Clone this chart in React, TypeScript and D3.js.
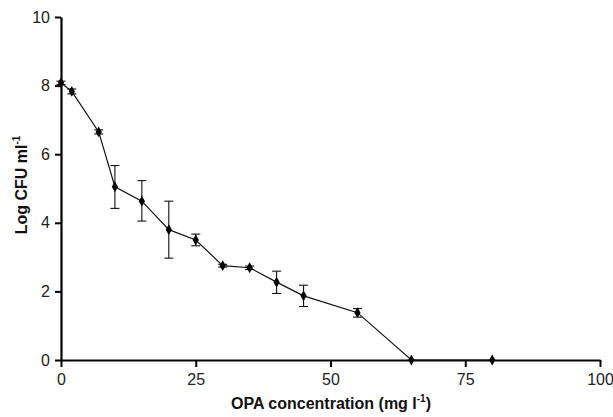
import React, { useEffect, useRef } from "react"
import * as d3 from "d3"

const concentration = [0, 2, 7, 10, 15, 20, 25, 30, 35, 40, 45, 55, 65, 80]
const logCfu = [8.08, 7.83, 6.65, 5.05, 4.63, 3.8, 3.5, 2.75, 2.69, 2.27, 1.87, 1.38, 0, 0]
const errUp = [0.05, 0.07, 0.06, 0.62, 0.6, 0.83, 0.17, 0.04, 0.05, 0.32, 0.31, 0.12, 0, 0]
const errDown = [0.05, 0.07, 0.06, 0.63, 0.58, 0.83, 0.17, 0.04, 0.05, 0.33, 0.31, 0.13, 0, 0]
const xTicks = [0, 25, 50, 75, 100]
const yTicks = [0, 2, 4, 6, 8, 10]

const W = 613
const H = 417
const margin = { top: 17, right: 13, bottom: 57, left: 61 }
const font = "'Liberation Sans', Arial, sans-serif"

const App = () => {
  const ref = useRef<SVGSVGElement>(null)

  useEffect(() => {
    const svg = d3.select(ref.current)
    svg.selectAll("*").remove()

    const x = d3.scaleLinear().domain([0, 100]).range([margin.left, W - margin.right])
    const y = d3.scaleLinear().domain([0, 10]).range([H - margin.bottom, margin.top])

    const data = concentration.map((c, i) => ({ c, v: logCfu[i], up: errUp[i], down: errDown[i] }))

    // axes
    const xAxis = svg.append("g")
      .attr("transform", `translate(0,${y(0)})`)
      .call(d3.axisBottom(x).tickValues(xTicks).tickSize(7).tickPadding(7).tickSizeOuter(0))
    const yAxis = svg.append("g")
      .attr("transform", `translate(${x(0)},0)`)
      .call(d3.axisLeft(y).tickValues(yTicks).tickSize(6).tickPadding(5).tickSizeOuter(0))

    ;[xAxis, yAxis].forEach((g) => {
      g.select(".domain").attr("stroke", "#000").attr("stroke-width", 2.2)
      g.selectAll(".tick line").attr("stroke", "#000").attr("stroke-width", 2)
      g.selectAll(".tick text").attr("fill", "#222").style("font-family", font).style("font-size", "16px")
    })

    // line
    svg.append("path")
      .datum(data)
      .attr("fill", "none")
      .attr("stroke", "#111")
      .attr("stroke-width", 1.2)
      .attr("d", d3.line<any>().x((d) => x(d.c)).y((d) => y(d.v)))

    // error bars
    const eb = svg.append("g").attr("stroke", "#111").attr("stroke-width", 1.1)
    data.filter((d) => d.up > 0).forEach((d) => {
      const cx = x(d.c)
      const top = y(d.v + d.up)
      const bot = y(d.v - d.down)
      eb.append("line").attr("x1", cx).attr("x2", cx).attr("y1", top).attr("y2", bot)
      eb.append("line").attr("x1", cx - 4.5).attr("x2", cx + 4.5).attr("y1", top).attr("y2", top)
      eb.append("line").attr("x1", cx - 4.5).attr("x2", cx + 4.5).attr("y1", bot).attr("y2", bot)
    })

    // markers
    svg.append("g")
      .selectAll("path")
      .data(data)
      .join("path")
      .attr("transform", (d) => `translate(${x(d.c)},${y(d.v)})`)
      .attr("d", d3.symbol(d3.symbolDiamond, 34)())
      .attr("fill", "#000")

    // labels
    svg.append("text")
      .attr("x", 331)
      .attr("y", 409)
      .attr("text-anchor", "middle")
      .style("font-family", font)
      .style("font-size", "16px")
      .style("font-weight", "bold")
      .attr("fill", "#111")
      .html("OPA concentration (mg l<tspan dy='-7' font-size='10'>-1</tspan><tspan dy='7'>)</tspan>")

    svg.append("text")
      .attr("transform", `translate(27,185) rotate(-90)`)
      .attr("text-anchor", "middle")
      .style("font-family", font)
      .style("font-size", "16px")
      .style("font-weight", "bold")
      .attr("fill", "#111")
      .html("Log CFU ml<tspan dy='-7' font-size='10'>-1</tspan>")
  }, [])

  return (
    <svg ref={ref} width={W} height={H} style={{ position: "absolute", left: 0, top: 0, background: "#fff" }} />
  )
}

export default App
